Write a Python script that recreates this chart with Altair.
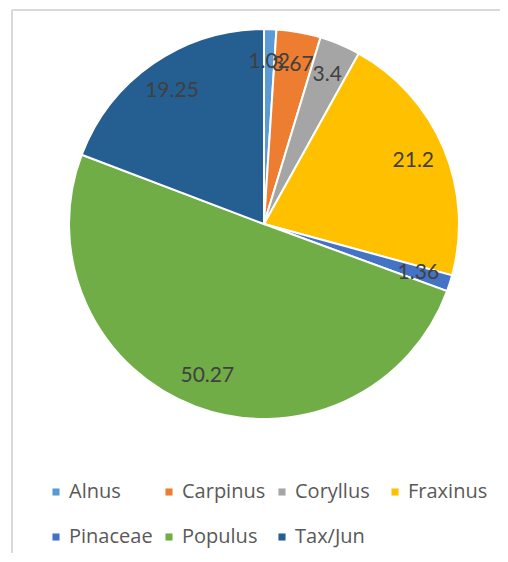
import altair as alt
import pandas as pd

taxa = ["Alnus", "Carpinus", "Coryllus", "Fraxinus", "Pinaceae", "Populus", "Tax/Jun"]
values = [1.02, 3.67, 3.4, 21.2, 1.36, 50.27, 19.25]
colors = ["#5B9BD5", "#ED7D31", "#A5A5A5", "#FFC000", "#4472C4", "#70AD47", "#255E91"]

df = pd.DataFrame({"taxon": taxa, "value": values, "idx": list(range(len(taxa)))})
df["label"] = df["value"].map(lambda v: f"{v:g}")

CX, CY, R = 256, 216, 195

color = alt.Color(
    "taxon:N",
    scale=alt.Scale(domain=taxa, range=colors),
    sort=taxa,
    legend=alt.Legend(
        title=None,
        orient="none",
        direction="horizontal",
        legendX=38,
        legendY=474,
        columns=4,
        gridAlign="all",
        symbolType="square",
        symbolSize=50,
        symbolStrokeWidth=0,
        labelFont="Open Sans",
        labelFontSize=20,
        labelColor="#595959",
        labelOffset=3,
        columnPadding=6,
        rowPadding=25,
    ),
)

frame_src = pd.DataFrame({"a": [0]})
top_line = alt.Chart(frame_src).mark_rule(color="#D9D9D9", strokeWidth=2).encode(
    x=alt.value(4), x2=alt.value(700), y=alt.value(2)
)
left_line = alt.Chart(frame_src).mark_rule(color="#D9D9D9", strokeWidth=2).encode(
    x=alt.value(4), y=alt.value(2), y2=alt.value(800)
)

base = alt.Chart(df).encode(
    theta=alt.Theta("value:Q", stack=True),
    order=alt.Order("idx:Q"),
)

arcs = base.mark_arc(radius=R, stroke="white", strokeWidth=2).encode(
    color=color, x=alt.value(CX), y=alt.value(CY)
)

labels = base.mark_text(
    radius=162, font="Lato", fontSize=21, color="#404040"
).encode(
    text="label:N", x=alt.value(CX), y=alt.value(CY)
)

chart = alt.layer(top_line, left_line, arcs, labels).properties(
    width=492, height=545, padding=0, autosize=alt.AutoSizeParams(type="none")
).configure_view(stroke=None)

chart.save("out.html", embed_options={"renderer": "svg", "actions": False})
